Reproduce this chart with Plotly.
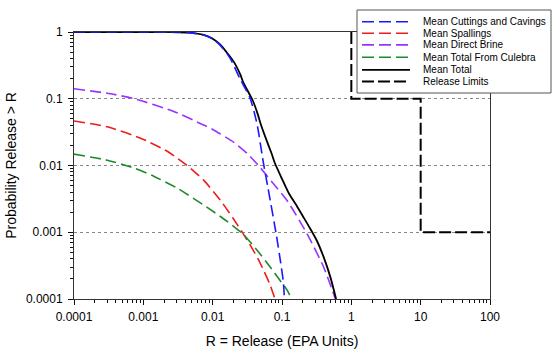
import plotly.graph_objects as go

# ---------------- data ----------------
cuttings_x = [0.0001, 0.001, 0.00316, 0.00468, 0.00741, 0.01, 0.0129, 0.0178, 0.0245,
              0.0347, 0.0437, 0.0537, 0.0631, 0.0832, 0.0955, 0.1047, 0.1084]
cuttings_y = [1, 1, 0.998, 0.977, 0.902, 0.794, 0.631, 0.407, 0.204,
              0.102, 0.0417, 0.0112, 0.00447, 0.000891, 0.000355, 0.000178, 0.0001]

spall_x = [0.0001, 0.000302, 0.000912, 0.00224, 0.00427, 0.00741, 0.0129, 0.02, 0.0275,
           0.0347, 0.0457, 0.0537, 0.0661, 0.0794]
spall_y = [0.0465, 0.038, 0.0257, 0.0162, 0.01, 0.00603, 0.00302, 0.00158, 0.000955,
           0.000646, 0.000389, 0.000275, 0.00017, 0.0001]

brine_x = [0.0001, 0.000316, 0.000741, 0.00275, 0.0066, 0.01, 0.02, 0.0316, 0.0457,
           0.0708, 0.1175, 0.229, 0.398, 0.589]
brine_y = [0.141, 0.120, 0.1, 0.0646, 0.0427, 0.0347, 0.0224, 0.0151, 0.01,
           0.00575, 0.00302, 0.000955, 0.000302, 0.0001]

culebra_x = [0.0001, 0.000302, 0.000741, 0.00141, 0.00309, 0.00813, 0.0158, 0.0275,
             0.0437, 0.0676, 0.0933, 0.1175, 0.138]
culebra_y = [0.0148, 0.012, 0.00912, 0.00692, 0.00457, 0.0024, 0.00148, 0.000933,
             0.000537, 0.000302, 0.000191, 0.000138, 0.0001]

total_x = [0.0001, 0.001, 0.00251, 0.00468, 0.00741, 0.01, 0.0129, 0.0158, 0.02, 0.0251,
           0.0275, 0.038, 0.0437, 0.0501, 0.0603, 0.0708, 0.0794, 0.1, 0.126, 0.158, 0.2,
           0.251, 0.316, 0.398, 0.501, 0.603]
total_y = [1, 1, 1, 0.977, 0.902, 0.794, 0.646, 0.501, 0.363, 0.229,
           0.178, 0.0933, 0.0631, 0.0398, 0.0234, 0.0151, 0.0107, 0.00631, 0.0038, 0.00263,
           0.00174, 0.00117, 0.000759, 0.000427, 0.000209, 0.0001]

limits_x = [1, 1, 10, 10, 100]
limits_y = [1, 0.1, 0.1, 0.001, 0.001]

names = ["Mean Cuttings and Cavings", "Mean Spallings", "Mean Direct Brine",
         "Mean Total From Culebra", "Mean Total", "Release Limits"]

x_ticks = [0.0001, 0.001, 0.01, 0.1, 1, 10, 100]
x_ticktext = ["0.0001", "0.001", "0.01", "0.1", "1", "10", "100"]
y_ticks = [0.0001, 0.001, 0.01, 0.1, 1]
y_ticktext = ["0.0001", "0.001", "0.01", "0.1", "1"]

# ---------------- styles ----------------
FONT = "Arial, Liberation Sans, sans-serif"
colors = ["#1a1aff", "#ee1c1c", "#9933ff", "#1f8a2a", "#000000", "#000000"]
dashes = ["11px,5px", "11px,5px", "11px,5px", "11px,5px", "solid", "12px,4px"]
widths = [1.6, 1.6, 1.6, 1.6, 1.8, 2.0]

series = [(cuttings_x, cuttings_y), (spall_x, spall_y), (brine_x, brine_y),
          (culebra_x, culebra_y), (total_x, total_y), (limits_x, limits_y)]

fig = go.Figure()
draw_order = [2, 1, 3, 4, 0, 5]
for i in draw_order:
    xs, ys = series[i]
    fig.add_trace(go.Scatter(
        x=xs, y=ys, mode="lines", name=names[i], showlegend=False,
        line=dict(color=colors[i], width=widths[i], dash=dashes[i],
                  shape="linear" if i == 5 else "spline", smoothing=0.6),
    ))

# plot geometry in pixels
W, H = 552, 350
L, R, T, B = 74, 490, 32, 299
pw, ph = R - L, B - T


def px(xp):
    return (xp - L) / pw


def py(yp):
    return (B - yp) / ph


minor_x = [m * 10 ** e for e in range(-4, 2) for m in range(2, 10)]
minor_y = [m * 10 ** e for e in range(-4, 0) for m in range(2, 10)]

fig.update_layout(
    width=W, height=H,
    margin=dict(l=L, r=W - R, t=T, b=H - B, pad=0, autoexpand=False),
    paper_bgcolor="white", plot_bgcolor="white",
    font=dict(family=FONT, size=12, color="black"),
    showlegend=False,
)

fig.update_xaxes(
    type="log", range=[-4, 2], automargin=False,
    tickmode="array", tickvals=x_ticks, ticktext=x_ticktext,
    ticks="outside", ticklen=5, tickwidth=1, tickcolor="#111",
    minor=dict(tickmode="array", tickvals=minor_x, ticks="outside", ticklen=3,
               tickwidth=1, tickcolor="#111", showgrid=False),
    showline=True, linecolor="#333", linewidth=1, mirror=True,
    showgrid=False, zeroline=False,
    ticklabelstandoff=2,
    tickfont=dict(size=12, family=FONT),
    title=dict(text="R = Release (EPA Units)", font=dict(size=14, family=FONT), standoff=12),
)
fig.update_yaxes(
    type="log", range=[-4, 0], automargin=False,
    tickmode="array", tickvals=y_ticks, ticktext=y_ticktext,
    ticks="outside", ticklen=5, tickwidth=1, tickcolor="#111",
    minor=dict(tickmode="array", tickvals=minor_y, ticks="outside", ticklen=3,
               tickwidth=1, tickcolor="#111", showgrid=False),
    showline=True, linecolor="#333", linewidth=1, mirror=True,
    showgrid=True, gridcolor="#888", gridwidth=1, griddash="dot",
    zeroline=False,
    ticklabelstandoff=3,
    tickfont=dict(size=12, family=FONT),
    title=dict(text="Probability Release > R", font=dict(size=14, family=FONT), standoff=5),
)

# ---------------- custom legend box ----------------
shapes = [dict(type="rect", xref="paper", yref="paper",
               x0=px(357), x1=px(551), y0=py(93), y1=py(10),
               fillcolor="white", line=dict(color="#555", width=1), layer="above")]
annotations = []
rows = [21.7, 33.3, 44.9, 57.3, 69.8, 81.6]
leg_dash = ["12px,5px", "12px,5px", "12px,5px", "12px,5px", "solid", "12px,4px"]
for i, ry in enumerate(rows):
    shapes.append(dict(type="line", xref="paper", yref="paper",
                       x0=px(362), x1=px(410), y0=py(ry), y1=py(ry),
                       line=dict(color=colors[i], width=widths[i], dash=leg_dash[i]),
                       layer="above"))
    annotations.append(dict(xref="paper", yref="paper", x=px(421), y=py(ry),
                            xanchor="left", yanchor="middle", showarrow=False,
                            text=names[i], font=dict(size=10, family=FONT, color="black")))

fig.update_layout(shapes=shapes, annotations=annotations)

fig.write_html("out.html")
